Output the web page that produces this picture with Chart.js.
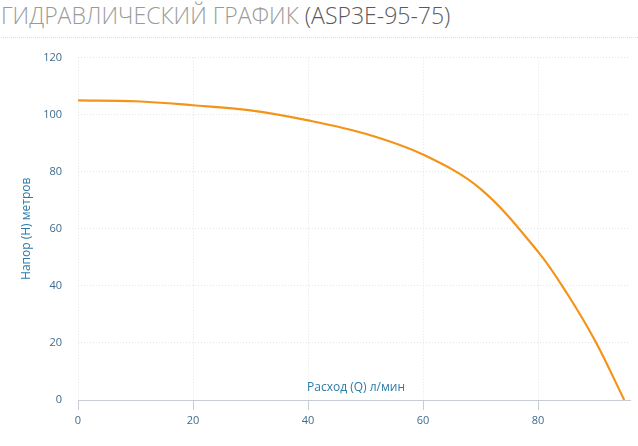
<!DOCTYPE html>
<html>
<head>
<meta charset="utf-8">
<script src="https://cdn.jsdelivr.net/npm/chart.js@4/dist/chart.umd.min.js"></script>
<style>
  body { margin: 0; background: #fff; width: 638px; height: 446px; overflow: hidden; position: relative; }
  .title {
    position: absolute; left: 1px; top: 0px; width: 637px; height: 37px;
    font-family: "Open Sans", sans-serif; font-weight: 300; font-size: 23px;
    color: #9a9a9a; line-height: 30px; border-bottom: 1px dotted #dcdcdc; white-space: nowrap;
  }
  .title span { color: #5a5a5a; }
  .wrap { position: absolute; left: 0; top: 35px; width: 638px; height: 411px; }
</style>
</head>
<body>
<div class="title">ГИДРАВЛИЧЕСКИЙ ГРАФИК <span>(ASP3E-95-75)</span></div>
<div class="wrap"><canvas id="myChart"></canvas></div>
<script>
// flow Q (л/мин) and head H (метров)
const flow = [0, 10, 20, 30, 40, 50, 60, 70, 80, 85, 90, 95];
const head = [105, 104.7, 103.3, 101.5, 98, 93.3, 86, 74, 52, 37.5, 20.5, 0];
const xTicks = [0, 20, 40, 60, 80];

const xTitle = "Расход (Q) л/мин";
const yTitle = "Напор (H) метров";

const tickColor = "#3f6b8c";
const titleColor = "#2b7ba8";
const gridColor = "#e4e4e4";

// axis titles are drawn by hand (x title sits above the axis line)
const axisTitles = {
    id: "axisTitles",
    afterDraw(chart) {
        const ctx = chart.ctx;
        const area = chart.chartArea;
        ctx.save();
        ctx.fillStyle = titleColor;
        ctx.font = "12px 'Open Sans', sans-serif";
        ctx.textAlign = "center";
        ctx.textBaseline = "bottom";
        ctx.fillText(xTitle, (area.left + area.right) / 2 + 2, area.bottom - 6);
        ctx.translate(27, (area.top + area.bottom) / 2);
        ctx.rotate(-Math.PI / 2);
        ctx.textBaseline = "middle";
        ctx.fillText(yTitle, 0, 0);
        ctx.restore();
    },
};

const data = {
    datasets: [
        {
            data: flow.map((q, i) => ({ x: q, y: head[i] })),
            borderColor: "#f39419",
            borderWidth: 2.2,
            pointRadius: 0,
            tension: 0.35,
            fill: false,
        },
    ],
};

const config = {
    type: "line",
    data: data,
    options: {
        responsive: true,
        maintainAspectRatio: false,
        animation: false,
        layout: { padding: { top: 3, right: 8, left: 0, bottom: 0 } },
        plugins: { legend: { display: false }, tooltip: { enabled: false } },
        scales: {
            x: {
                type: "linear",
                min: 0,
                max: 96,
                afterBuildTicks: (s) => { s.ticks = xTicks.map((v) => ({ value: v })); },
                afterFit: (s) => { s.height = 46; },
                grid: { color: gridColor, tickLength: 10, tickColor: "#c8ccd6", tickBorderDash: [] },
                border: { display: true, color: "#c8ccd6", width: 1, dash: [1, 2] },
                ticks: { color: tickColor, font: { size: 11, family: "'Open Sans', sans-serif" }, padding: 4, maxRotation: 0 },
            },
            y: {
                min: 0,
                max: 120,
                ticks: { stepSize: 20, color: tickColor, font: { size: 11, family: "'Open Sans', sans-serif" }, padding: 16 },
                afterFit: (s) => { s.width = 78; },
                grid: { color: gridColor, drawTicks: false },
                border: { display: false, dash: [1, 2] },
            },
        },
    },
    plugins: [axisTitles],
};
const myChart = new Chart(document.getElementById("myChart"), config);
</script>
</body>
</html>
